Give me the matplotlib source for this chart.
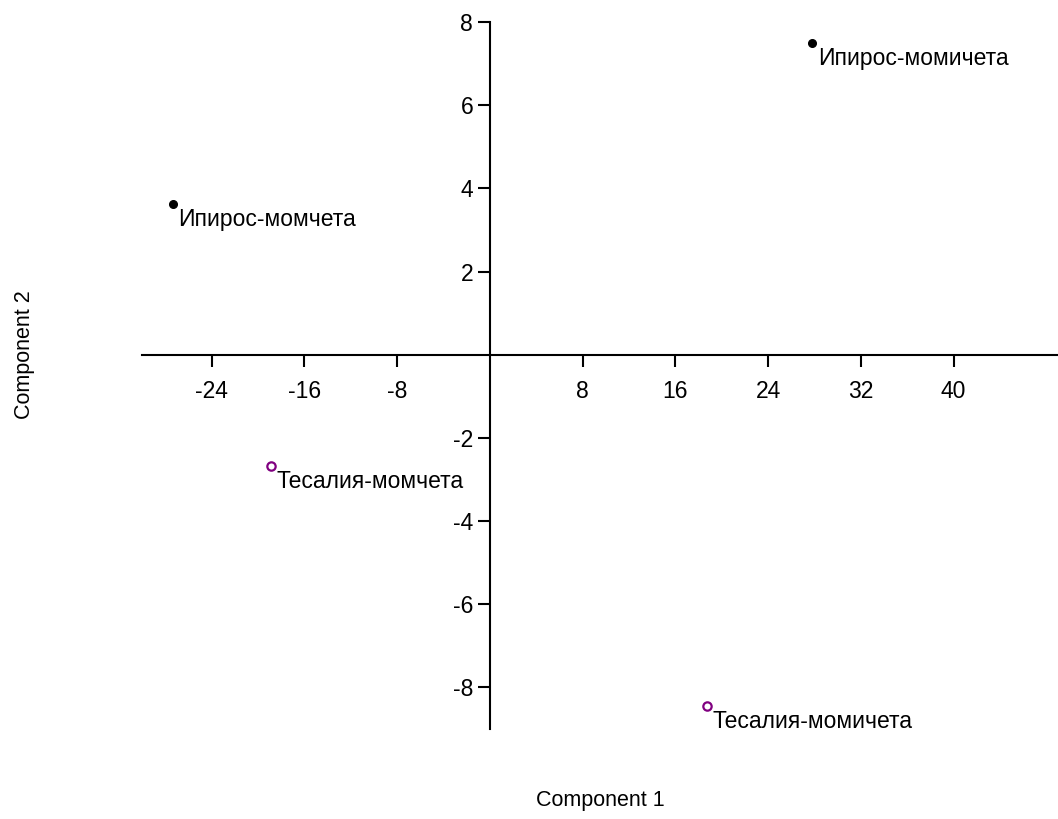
import matplotlib
matplotlib.use("Agg")
import matplotlib.pyplot as plt

# PCA scores per group
group_labels = ["Ипирос-момчета", "Ипирос-момичета", "Тесалия-момчета", "Тесалия-момичета"]
comp1 = [-27.35, 27.8, -18.9, 18.7]
comp2 = [3.63, 7.5, -2.67, -8.44]
region = ["Ипирос", "Ипирос", "Тесалия", "Тесалия"]

x_ticks = [-24, -16, -8, 8, 16, 24, 32, 40]
y_ticks = [-8, -6, -4, -2, 2, 4, 6, 8]

plt.rcParams["font.family"] = ["Liberation Sans", "DejaVu Sans"]

fig = plt.figure(figsize=(10.58, 8.19), dpi=100)
ax = fig.add_axes([0.1342, 0.1099, 0.8658, 0.8632])

for x, y, lab, reg in zip(comp1, comp2, group_labels, region):
    if reg == "Ипирос":
        ax.plot(x, y, "o", color="black", markersize=5.5, zorder=3)
    else:
        ax.plot(x, y, "o", markerfacecolor="none", markeredgecolor="#800080",
                markeredgewidth=1.6, markersize=6, zorder=3)
    ax.annotate(lab, (x, y), xytext=(4, -3), textcoords="offset points",
                ha="left", va="top", fontsize=16.5, color="black")

ax.set_xlim(-30, 49)
ax.set_ylim(-9, 8)

for side in ("top", "right"):
    ax.spines[side].set_visible(False)
ax.spines["left"].set_position(("data", 0))
ax.spines["bottom"].set_position(("data", 0))
ax.spines["left"].set_linewidth(1.5)
ax.spines["bottom"].set_linewidth(1.5)

ax.set_xticks(x_ticks)
ax.set_yticks(y_ticks)
ax.set_xticklabels([str(v) for v in x_ticks])
ax.set_yticklabels([str(v) for v in y_ticks])
ax.tick_params(axis="x", direction="out", length=8.5, width=1.5, pad=10, labelsize=16.5)
ax.tick_params(axis="y", direction="out", length=8.5, width=1.5, pad=3.5, labelsize=16.5)

fig.text(0.567, 0.0354, "Component 1", ha="center", va="top", fontsize=15.5)
fig.text(0.023, 0.567, "Component 2", ha="center", va="center", fontsize=15.5, rotation=90)

fig.savefig("out.png", dpi=100)
